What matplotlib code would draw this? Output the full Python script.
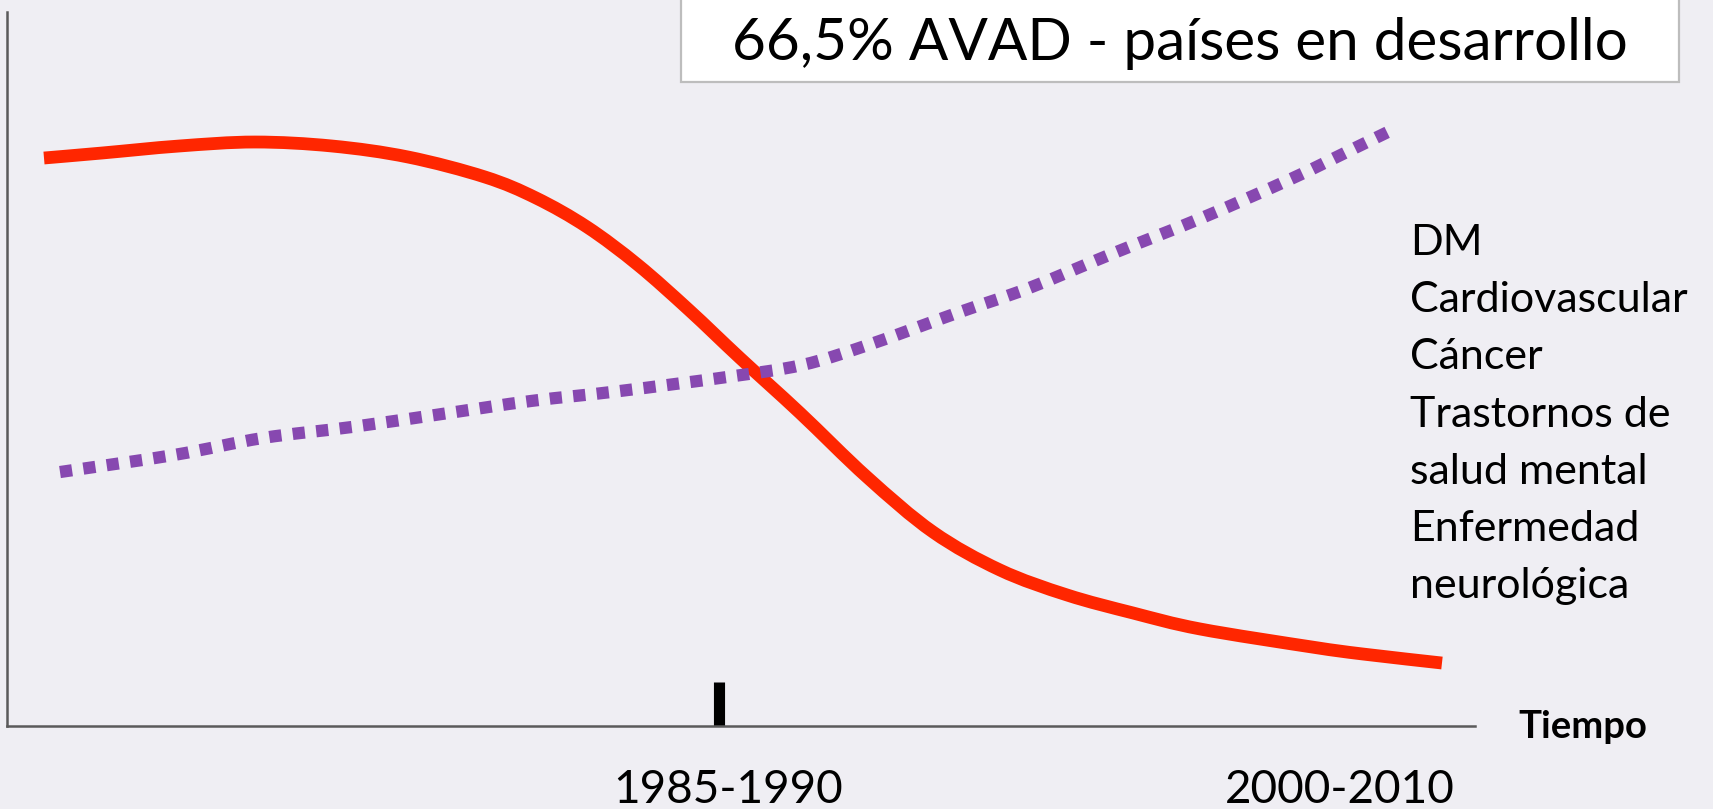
import matplotlib
matplotlib.use("Agg")
import matplotlib.pyplot as plt
import numpy as np
from matplotlib.patches import Rectangle, PathPatch
from matplotlib.path import Path
from matplotlib.transforms import blended_transform_factory

# ---- data (abstract 0-100 scales) ----
red_x = [2.52, 6.47, 11.72, 16.89, 22.14, 27.32, 32.56, 36.04, 39.51, 42.98,
         46.46, 49.93, 54.02, 58.58, 63.08, 67.64, 72.21, 76.70, 81.27, 88.90,
         92.37, 97.75]
red_y = [79.55, 80.25, 81.23, 81.79, 81.23, 79.69, 76.89, 73.95, 69.89, 64.57,
         58.26, 51.54, 43.84, 34.87, 27.17, 21.85, 18.35, 15.83, 13.59, 11.06,
         10.08, 8.82]

purple_x = [3.61, 11.38, 17.44, 23.50, 29.63, 35.69, 41.76, 49.05, 54.16,
            58.65, 64.71, 69.62, 75.41, 81.54, 87.60, 91.96, 94.62]
purple_y = [35.57, 37.96, 40.34, 41.88, 43.70, 45.52, 46.92, 48.88, 50.56,
            53.36, 57.84, 61.34, 66.25, 71.29, 76.75, 81.09, 83.75]

tick_pos = [48.5]
tick_labels = ["1985-1990", "2000-2010"]
tick_label_pos = [49.1, 90.8]

title_text = "66,5% AVAD - países en desarrollo"
side_lines = ["DM", "Cardiovascular", "Cáncer", "Trastornos de",
              "salud mental", "Enfermedad", "neurológica"]
x_label = "Tiempo"


def smooth_path(xs, ys):
    """Smooth cubic Bezier path passing through the given points."""
    p = np.column_stack([xs, ys]).astype(float)
    ext = np.vstack([p[0], p, p[-1]])
    verts = [p[0]]
    codes = [Path.MOVETO]
    for i in range(len(p) - 1):
        p0, p1, p2, p3 = ext[i], ext[i + 1], ext[i + 2], ext[i + 3]
        c1 = p1 + (p2 - p0) / 6.0
        c2 = p2 - (p3 - p1) / 6.0
        verts += [c1, c2, p2]
        codes += [Path.CURVE4] * 3
    return Path(np.array(verts), codes)


# ---- figure ----
W, H = 1713, 809
BG = "#EFEEF3"
FONT = ["Lato", "DejaVu Sans"]
plt.rcParams["font.family"] = FONT

fig = plt.figure(figsize=(W / 100, H / 100), dpi=100, facecolor=BG)

ax_left, ax_right, ax_top, ax_bottom = 7, 1475, 12, 726
ax = fig.add_axes([ax_left / W, (H - ax_bottom) / H,
                   (ax_right - ax_left) / W, (ax_bottom - ax_top) / H])
ax.set_facecolor(BG)
ax.set_xlim(0, 100)
ax.set_ylim(0, 100)

for s in ("top", "right"):
    ax.spines[s].set_visible(False)
for s in ("left", "bottom"):
    ax.spines[s].set_color("#5a5a5a")
    ax.spines[s].set_linewidth(1.8)

ax.add_patch(PathPatch(smooth_path(red_x, red_y), facecolor="none",
                       edgecolor="#FF2600", lw=9.2, capstyle="butt",
                       joinstyle="round", zorder=2))
ax.add_patch(PathPatch(smooth_path(purple_x, purple_y), facecolor="none",
                       edgecolor="#8748B0", lw=8.8,
                       linestyle=(0, (1.0, 0.93)), capstyle="butt",
                       joinstyle="miter", zorder=3))

ax.set_xticks(tick_pos)
ax.set_xticklabels([])
ax.tick_params(axis="x", direction="in", length=32, width=8, color="black")
ax.set_yticks([])

trans = blended_transform_factory(ax.transData, fig.transFigure)
for lab, pos in zip(tick_labels, tick_label_pos):
    fig.text(pos, (H - 803) / H, lab, transform=trans, ha="center",
             va="baseline", fontsize=33, color="black")

fig.text(1583 / W, (H - 738) / H, x_label, ha="center", va="baseline",
         fontsize=27.5, fontweight="bold", color="black")

# title box
fig.add_artist(Rectangle((681 / W, (H - 82) / H), (1679 - 681) / W, 0.3,
                         transform=fig.transFigure, facecolor="white",
                         edgecolor="#BDBDBD", lw=1.6, zorder=5))
fig.text(1180 / W, (H - 60) / H, title_text, ha="center", va="baseline",
         fontsize=42, color="black", zorder=6)

# side list
for i, line in enumerate(side_lines):
    fig.text(1410 / W, (H - (255 + 57.2 * i)) / H, line, ha="left",
             va="baseline", fontsize=31, color="black")

fig.savefig("out.png", dpi=100, facecolor=BG)
